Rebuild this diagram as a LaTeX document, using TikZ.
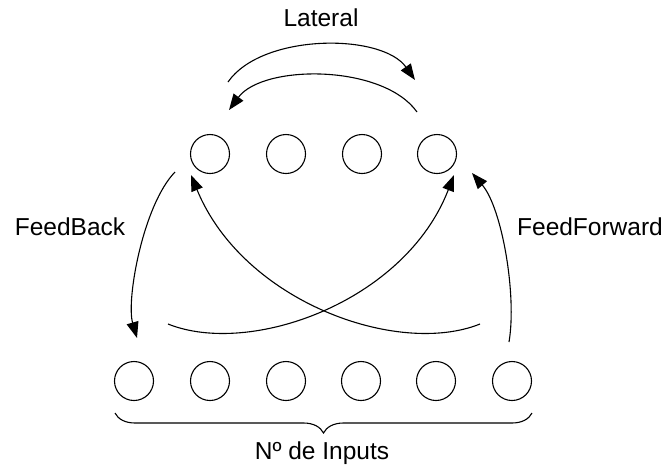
\documentclass[tikz,border=0pt]{standalone}
\usepackage{fontspec}
\setmainfont{Liberation Sans}
\usetikzlibrary{arrows.meta,decorations.pathreplacing}
\begin{document}
\begin{tikzpicture}[x=1pt,y=-1pt,
  neuron/.style={circle,draw,line width=1.1pt,minimum size=39pt,inner sep=0pt},
  link/.style={line width=1.1pt,-{Triangle[length=16pt,width=12pt]}},
  lbl/.style={font=\fontsize{24.5}{28}\selectfont,inner sep=0pt}]
\useasboundingbox (0,0) rectangle (668,469);

% upper layer
\foreach \i/\x in {1/210,2/286,3/362,4/437}
  \node[neuron] (t\i) at (\x,154) {};
% input layer
\foreach \i/\x in {1/134,2/210,3/286,4/361,5/436,6/512}
  \node[neuron] (b\i) at (\x,381) {};

% free ends of the arcs
\coordinate (latAs) at (228,82);   \coordinate (latAe) at (415,80);
\coordinate (latBs) at (417,112);  \coordinate (latBe) at (229,110);
\coordinate (fbS) at (175,172);    \coordinate (fbE) at (137,338);
\coordinate (ffS) at (509,342);    \coordinate (ffE) at (472,173);
\coordinate (xAs) at (168,324);    \coordinate (xAe) at (454,175);
\coordinate (xBs) at (480,324);    \coordinate (xBe) at (191,175);
\coordinate (brR) at (532,413);    \coordinate (brL) at (115,413);

% lateral connections
\draw[link] (latAs) .. controls (262,33) and (382,33) .. (latAe);
\draw[link] (latBs) .. controls (383,64) and (263,64) .. (latBe);

% feedback and feedforward
\draw[link] (fbS) .. controls (143,205) and (126,300) .. (fbE);
\draw[link] (ffS) .. controls (517,295) and (502,208) .. (ffE);

% crossing connections
\draw[link] (xAs) .. controls (250,357) and (405,302) .. (xAe);
\draw[link] (xBs) .. controls (398,357) and (243,302) .. (xBe);

% brace under the inputs
\draw[line width=1.1pt,decorate,decoration={brace,amplitude=20pt}] (brR) -- (brL);

% labels
\node[lbl] (lat) at (321,18) {Lateral};
\node[lbl] (fb) at (70,227) {FeedBack};
\node[lbl] (ff) at (590,227) {FeedForward};
\node[lbl] (ni) at (322,453) {Nº de Inputs};
\end{tikzpicture}
\end{document}
